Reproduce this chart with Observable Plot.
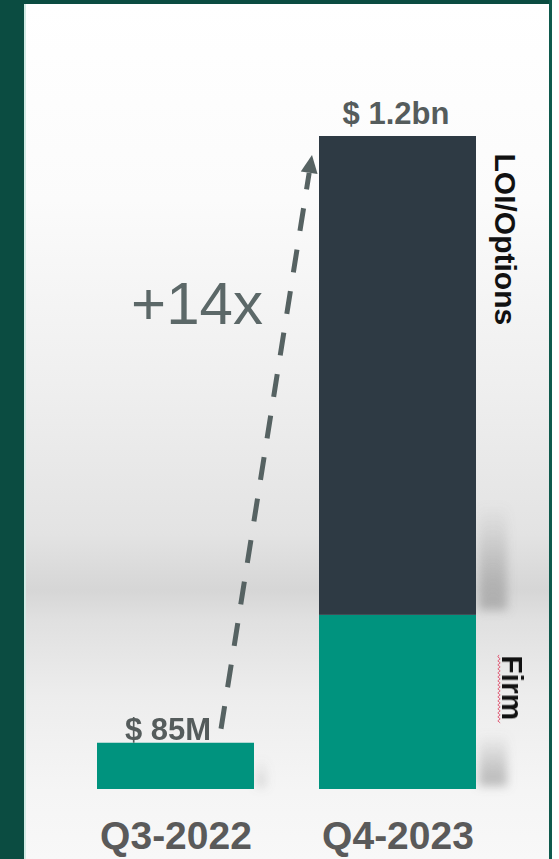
<!DOCTYPE html>
<html><head><meta charset="utf-8">
<script src="https://cdn.jsdelivr.net/npm/d3@7"></script>
<script src="https://cdn.jsdelivr.net/npm/@observablehq/plot@0.6"></script>
<style>
html,body{margin:0;padding:0;background:#fff;}
#frame{position:relative;width:559px;height:859px;overflow:hidden;background:#fff;}
#panel{position:absolute;left:26px;top:4px;width:523px;height:855px;
  background:linear-gradient(to bottom,#ffffff 0%,#fbfbfb 23%,#eeeeee 46%,#e3e3e3 62%,#d6d6d6 68.5%,#e0e0e0 72%,#ededed 81%,#f5f5f5 92%,#f8f8f8 100%);}
#leftbar{position:absolute;left:0;top:0;width:24px;height:859px;background:#0b4c41;}
#leftline{position:absolute;left:24px;top:4px;width:2px;height:855px;background:#d3ebe5;}
#topbar{position:absolute;left:0;top:0;width:552px;height:4px;background:#0b4c41;}
#rightline{position:absolute;left:549px;top:0;width:3px;height:859px;background:#0f5a4d;}
#chart{position:absolute;left:0;top:0;}
</style>
</head><body>
<div id="frame">
  <div id="panel"></div>
  <div id="leftbar"></div>
  <div id="leftline"></div>
  <div id="topbar"></div>
  <div id="rightline"></div>
  <div id="chart"></div>
</div>
<script>
const categories = ["Q3-2022", "Q4-2023"];
const segments = ["Firm", "LOI/Options"];
const firmValues = [85, 320];
const optionValues = [0, 880];
const totalLabels = ["$ 85M", "$ 1.2bn"];
const growthLabel = "+14x";
const segmentColors = ["#00937e", "#2e3a44"];

const rows = [];
categories.forEach((c, i) => {
  rows.push({category: c, segment: segments[0], value: firmValues[i]});
  if (optionValues[i] > 0) rows.push({category: c, segment: segments[1], value: optionValues[i]});
});
const totals = categories.map((c, i) => ({category: c, total: firmValues[i] + optionValues[i], label: totalLabels[i]}));
const last = categories.length - 1;
const loiLabel = [{category: categories[last], y: firmValues[last] + optionValues[last], text: segments[1]}];
const firmLabel = [{category: categories[last], y: firmValues[last], text: segments[0]}];

const font = "'Liberation Sans', Arial, Helvetica, sans-serif";

const plot = Plot.plot({
  width: 559, height: 859,
  marginTop: 136, marginBottom: 70, marginLeft: 30, marginRight: 16,
  style: {background: "transparent", fontFamily: font, overflow: "visible"},
  x: {domain: categories, paddingInner: 0.293, paddingOuter: 0.3, axis: null},
  y: {domain: [0, 1200], axis: null},
  color: {domain: segments, range: segmentColors},
  marks: [
    Plot.barY(rows, {x: "category", y: "value", fill: "segment", inset: 0}),
    Plot.text(totals.slice(0, 1), {x: "category", y: "total", text: "label", lineAnchor: "bottom", dy: -3, dx: -8, fontSize: 31, fontWeight: "bold", fill: "#555c5c"}),
    Plot.text(totals.slice(1), {x: "category", y: "total", text: "label", lineAnchor: "bottom", dy: -13, dx: -2, fontSize: 31, fontWeight: "bold", fill: "#555c5c"}),
    Plot.text(loiLabel, {x: "category", y: "y", text: "text", rotate: 90, textAnchor: "start", lineAnchor: "middle", dx: 107, dy: 17, fontSize: 30, fontWeight: "bold", fill: "#111"}),
    Plot.text(firmLabel, {x: "category", y: "y", text: "text", rotate: 90, textAnchor: "start", lineAnchor: "middle", dx: 114, dy: 40, fontSize: 30, fontWeight: "bold", fill: "#111"}),
    Plot.text([growthLabel], {x: () => categories[0], text: d => d, frameAnchor: "top", lineAnchor: "bottom", dy: 187, dx: 21, fontSize: 60, fill: "#5c6868"}),
    Plot.text(categories, {x: d => d, text: d => d, frameAnchor: "bottom", lineAnchor: "top", dy: 32, fontSize: 39, fontWeight: "bold", fill: "#5a5a5a"})
  ]
});
document.getElementById("chart").append(plot);

// decorations anchored to the plot's scales
const sx = plot.scale("x"), sy = plot.scale("y");
const bw = sx.bandwidth;
const svg = d3.select(plot);
const defs = svg.append("defs");
defs.append("filter").attr("id", "blur").attr("x", "-50%").attr("y", "-50%").attr("width", "200%").attr("height", "200%")
  .append("feGaussianBlur").attr("stdDeviation", 5);
const g1 = defs.append("linearGradient").attr("id", "shadeA").attr("x1", 0).attr("x2", 0).attr("y1", 0).attr("y2", 1);
g1.append("stop").attr("offset", "0%").attr("stop-color", "#8a8a8a").attr("stop-opacity", 0);
g1.append("stop").attr("offset", "70%").attr("stop-color", "#8a8a8a").attr("stop-opacity", 0.45);
g1.append("stop").attr("offset", "100%").attr("stop-color", "#8a8a8a").attr("stop-opacity", 0.55);

const shadows = svg.insert("g", "g").attr("filter", "url(#blur)");
const q4Right = sx.apply(categories[1]) + bw;
const q3Right = sx.apply(categories[0]) + bw;
const firmTop = sy.apply(firmValues[1]);
const base = sy.apply(0);
shadows.append("rect").attr("x", q4Right + 3).attr("width", 28).attr("y", firmTop - 110).attr("height", 105).attr("fill", "url(#shadeA)");
shadows.append("rect").attr("x", q4Right + 3).attr("width", 28).attr("y", base - 55).attr("height", 52).attr("fill", "url(#shadeA)");
shadows.append("rect").attr("x", q3Right + 2).attr("width", 10).attr("y", base - 30).attr("height", 28).attr("fill", "url(#shadeA)").attr("opacity", 0.5);

// dashed growth arrow
const x0 = sx.apply(categories[0]) + bw * 0.79, y0 = sy.apply(totals[0].total) - 14;
const xt = sx.apply(categories[1]) - 7, yt = sy.apply(totals[1].total) + 19;
const L = Math.hypot(xt - x0, yt - y0);
const ux = (xt - x0) / L, uy = (yt - y0) / L;
const nx = -uy, ny = ux;
const hl = 18, hw = 8.5;
const bx = xt - hl * ux, by = yt - hl * uy;
svg.append("line").attr("x1", x0).attr("y1", y0).attr("x2", bx).attr("y2", by)
  .attr("stroke", "#566262").attr("stroke-width", 5).attr("stroke-dasharray", "23 19");
svg.append("path").attr("d", `M${xt},${yt}L${bx + hw * nx},${by + hw * ny}L${bx - hw * nx},${by - hw * ny}Z`).attr("fill", "#566262");

// spell-check squiggle under "Firm"
const sqX = sx.apply(categories[1]) + bw / 2 + 101.5;
const sqY0 = firmTop + 40, sqY1 = sqY0 + 67;
let p = `M${sqX},${sqY0}`;
for (let y = sqY0, k = 0; y < sqY1; y += 2, k++) p += `L${sqX + (k % 2 ? 1.2 : -1.2)},${y + 2}`;
svg.append("path").attr("d", p).attr("fill", "none").attr("stroke", "#e0607a").attr("stroke-width", 1);
</script>
</body></html>
